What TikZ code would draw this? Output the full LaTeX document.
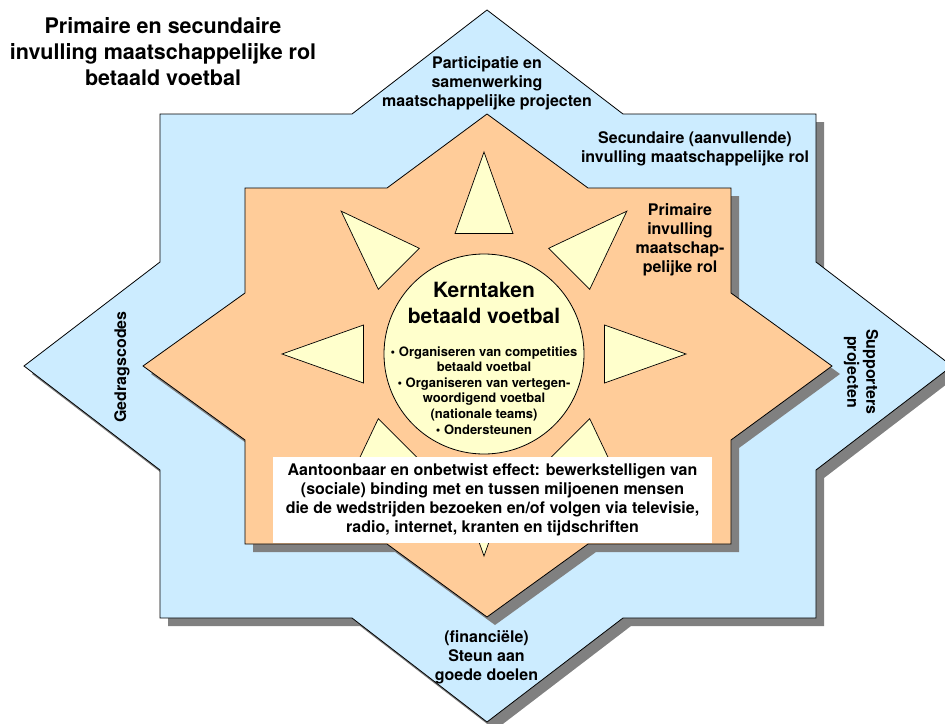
\documentclass[tikz,border=0pt]{standalone}
\usepackage{fontspec}
\setmainfont{TeX Gyre Heros}
\definecolor{starblue}{HTML}{CCECFF}
\definecolor{starorange}{HTML}{FFCC99}
\definecolor{sunyellow}{HTML}{FFFFCC}
\definecolor{dropgray}{HTML}{808080}

% outline of the outer (secondary) eight-pointed star
\newcommand\outerstarpath{(487,10) -- (623,114) -- (816,114) -- (816,262) -- (952,366) -- (816,470) -- (816,618) -- (623,618) -- (487,722) -- (352,618) -- (160,618) -- (160,470) -- (24,366) -- (160,262) -- (160,114) -- (352,114) -- cycle}
% outline of the inner (primary) eight-pointed star
\newcommand\innerstarpath{(487,114) -- (588,188) -- (731,188) -- (731,293) -- (832,366) -- (731,440) -- (731,544) -- (588,544) -- (487,617) -- (387,544) -- (245,544) -- (245,440) -- (143,366) -- (245,293) -- (245,188) -- (387,188) -- cycle}

\begin{document}
\begin{tikzpicture}[x=1pt,y=-1pt,
  outline/.style={draw=black, line width=0.8pt, line join=miter},
  dropshadow/.style={fill=dropgray, draw=none, shift={(8,8)}},
  ray/.style={fill=sunyellow, draw=black, line width=0.7pt, line join=miter},
  lbl/.style={font=\fontsize{16}{19}\selectfont\bfseries, align=center, inner sep=0pt},
]
\useasboundingbox (0,0) rectangle (945,723);
\clip (0,0) rectangle (945,723);

% outer star with its drop shadow
\fill[dropshadow] \outerstarpath;
\path[outline, fill=starblue] \outerstarpath;

% inner star with its drop shadow
\fill[dropshadow] \innerstarpath;
\path[outline, fill=starorange] \innerstarpath;

% sun rays around the core
\begin{scope}[shift={(484,354)}]
  \foreach \a in {0,45,...,315}
    \draw[ray, rotate=\a] (120.5,-29) -- (202,0) -- (120.5,29) -- cycle;
\end{scope}

% core circle
\node[circle, minimum size=200pt, inner sep=0pt, fill=sunyellow, draw=black, line width=0.8pt] (core) at (484,354) {};

% effect box
\node[fill=white, minimum width=439pt, minimum height=86pt, inner sep=0pt, lbl] (effect) at (492.5,500)
  {Aantoonbaar en onbetwist effect: bewerkstelligen van\\(sociale) binding met en tussen miljoenen mensen\\die de wedstrijden bezoeken en/of volgen via televisie,\\radio, internet, kranten en tijdschriften};

% title
\node[lbl, font=\fontsize{21.5}{26}\selectfont\bfseries] (title) at (163,52)
  {Primaire en secundaire\\invulling maatschappelijke rol\\betaald voetbal};

% labels on the stars
\node[lbl] (particip) at (487,83.5) {Participatie en\\samenwerking\\maatschappelijke projecten};
\node[lbl] (secund) at (695,148.5) {Secundaire (aanvullende)\\invulling maatschappelijke rol};
\node[lbl] (prim) at (680,239.5) {Primaire\\invulling\\maatschap-\\pelijke rol};
\node[lbl, rotate=90] (codes) at (122,367) {Gedragscodes};
\node[lbl, rotate=-90] (supp) at (861,372) {Supporters\\projecten};
\node[lbl] (charity) at (486.5,657) {(financiële)\\Steun aan\\goede doelen};

% core tasks
\node[lbl, font=\fontsize{21}{26}\selectfont\bfseries] (coretitle) at (484,302.5) {Kerntaken\\betaald voetbal};
\node[lbl, font=\fontsize{13}{15.6}\selectfont\bfseries] (coretasks) at (484,390.3)
  {• Organiseren van competities\\betaald voetbal\\• Organiseren van vertegen-\\woordigend voetbal\\(nationale teams)\\• Ondersteunen};
\end{tikzpicture}
\end{document}
